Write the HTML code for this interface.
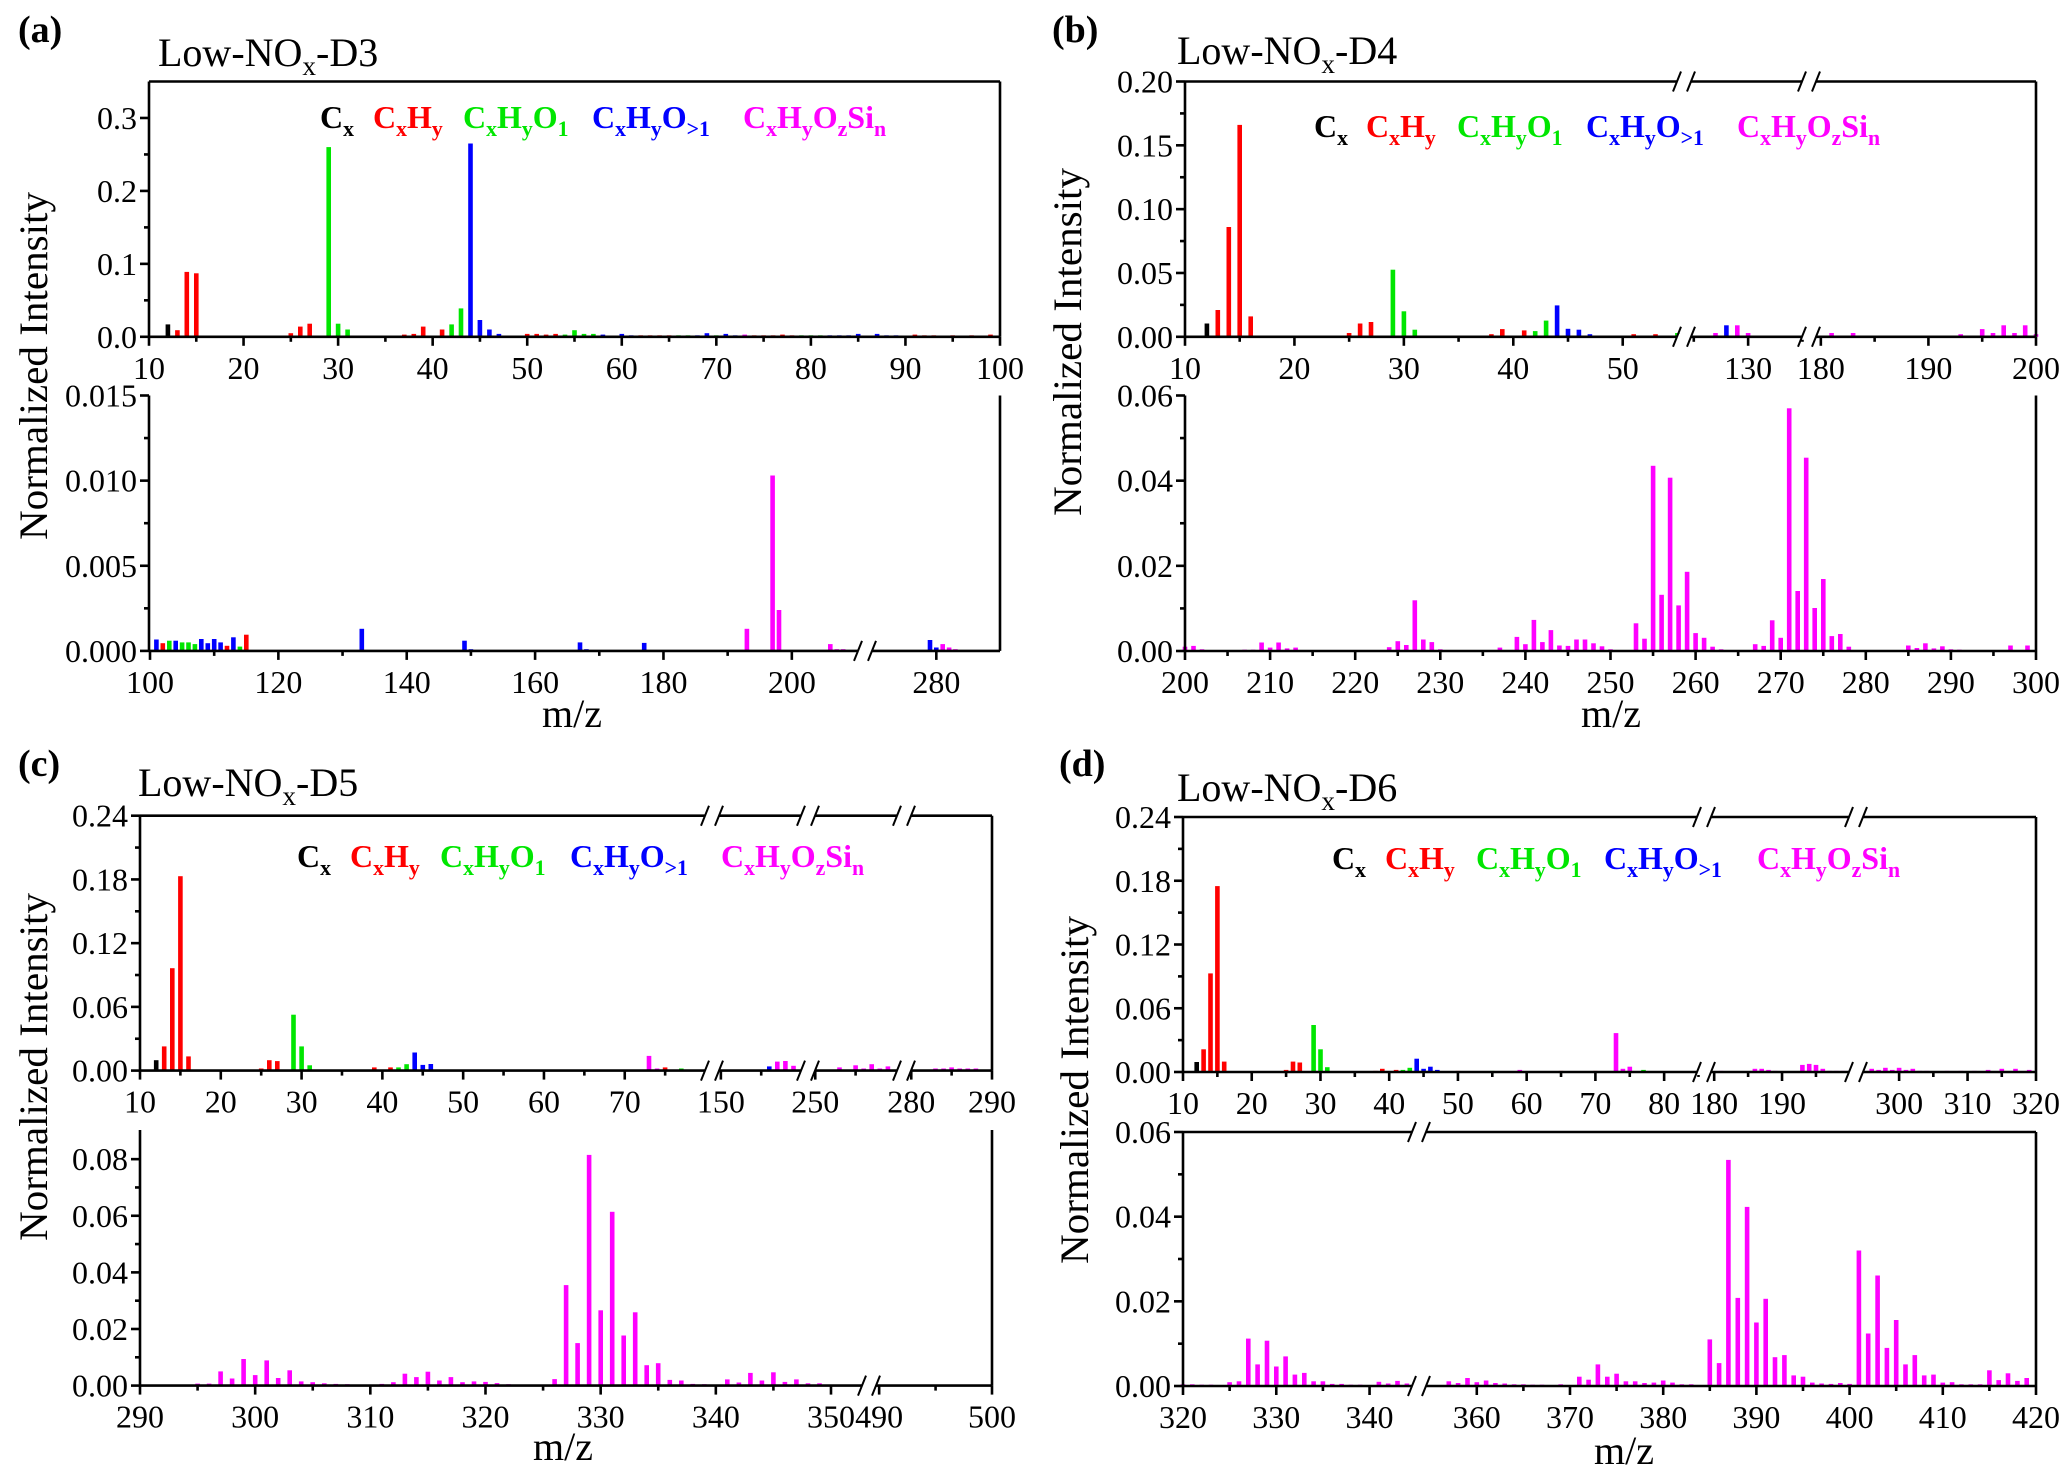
<!DOCTYPE html>
<html><head><meta charset="utf-8"><style>
html,body{margin:0;padding:0;background:#fff;}
svg{display:block;font-family:"Liberation Serif",serif;}
</style></head><body>
<svg id="fig" width="2067" height="1478" viewBox="0 0 2067 1478" xmlns="http://www.w3.org/2000/svg"></svg>
<script>
// ---------- DATA ----------
const classColors = ['#000000','#ff0000','#00e600','#0000ff','#ff00ff'];
const classNames = ['cx','cxhy','cxhyo1','cxhyo-gt1','cxhyozsin'];

// (a) top
const mzA1  = [12,13,14,15,22,24,25,26,27,29,30,31,37,38,39,41,42,43,44,45,46,47,
               50,51,52,53,54,55,56,57,58,
               60,61,62,63,64,65,66,67,68,69,70,71,72,73,74,75,76,77,78,79,80,81,82,83,84,85,
               87,88,89,91,92,93,95,97,99];
const valA1 = [.017,.009,.089,.087,.001,.001,.005,.014,.018,.26,.018,.01,.003,.004,.014,.01,.017,.039,.265,.023,.01,.004,
               .004,.004,.003,.004,.003,.009,.004,.004,.003,
               .004,.002,.002,.002,.002,.002,.002,.002,.002,.005,.002,.004,.002,.003,.002,.002,.002,.003,.002,.002,.002,.002,.002,.002,.002,.004,
               .004,.002,.002,.003,.002,.002,.002,.002,.003];
const clsA1 = [0,1,1,1,3,0,1,1,1,2,2,2,1,1,1,1,2,2,3,3,3,3,
               1,1,1,1,2,2,2,2,3,
               3,3,1,1,1,1,2,2,3,3,2,3,3,4,1,1,1,1,1,2,2,2,3,3,3,3,
               3,3,3,1,1,1,1,1,1];
// (a) bottom
const mzA2  = [101,102,103,104,105,106,107,108,109,110,111,112,113,114,115,133,149,150,167,168,177,193,197,198,206,207,208,279,280,281,282,283];
const valA2 = [.00067,.00045,.0006,.0006,.0005,.0005,.0004,.0007,.00045,.0007,.0005,.0003,.0008,.00025,.00095,.0013,.0006,.0001,.0005,.0001,.00047,.0013,.0103,.0024,.0004,.0001,.0001,.00064,.0002,.0004,.0002,.0001];
const clsA2 = [3,1,2,3,2,2,2,3,3,3,3,1,3,2,1,3,3,3,3,3,3,4,4,4,4,4,4,3,3,4,4,4];
// (b) top
const mzB1  = [12,13,14,15,16,24,25,26,27,29,30,31,36,37,38,39,41,42,43,44,45,46,47,48,49,50,51,52,53,54,55,
               127,128,129,130,131,181,182,183,186,191,192,193,194,195,196,197,198,199,200];
const valB1 = [.0104,.021,.086,.166,.016,.001,.003,.0104,.0116,.0526,.020,.0056,.001,.001,.002,.006,.005,.0045,.0127,.0246,.0063,.0056,.002,.001,.001,.001,.002,.001,.002,.001,.003,
               .003,.009,.009,.003,.001,.003,.001,.003,.001,.001,.001,.002,.001,.006,.003,.009,.003,.009,.002];
const clsB1 = [0,1,1,1,1,0,1,1,1,2,2,2,0,1,1,1,1,2,2,3,3,3,3,0,1,1,1,1,1,1,2,
               4,3,4,4,4,4,4,4,4,4,4,4,4,4,4,4,4,4,4];
// (b) bottom
const mzB2  = [200,201,202,207,208,209,210,211,212,213,224,225,226,227,228,229,230,237,239,240,241,242,243,244,245,246,247,248,249,250,
               253,254,255,256,257,258,259,260,261,262,263,267,268,269,270,271,272,273,274,275,276,277,278,281,282,283,285,286,287,288,289,290,291,297,299];
const valB2 = [.001,.0012,.0004,.0003,.0003,.002,.0008,.002,.0006,.0008,.0009,.0023,.0014,.0119,.0027,.0021,.0004,.0008,.0033,.0016,.0073,.0021,.0049,.0013,.0012,.0027,.0027,.0018,.0011,.0004,
               .0065,.0029,.0435,.0132,.0407,.0107,.0186,.0042,.0031,.001,.0004,.0016,.0012,.0072,.0031,.057,.0141,.0454,.0101,.0169,.0035,.004,.001,.0002,.0002,.0002,.0013,.0007,.0018,.0006,.0011,.0004,.0003,.0013,.0013];
// (c) top
const mzC1  = [12,13,14,15,16,25,26,27,29,30,31,37,38,39,41,42,43,44,45,46,47,
               50,52,55,58,60,65,67,70,73,74,75,77,
               156,157,158,159,253,255,256,257,258,259,283,284,285,286,287,288,289];
const valC1 = [.0098,.0228,.0964,.183,.0134,.002,.0098,.0089,.0526,.0228,.005,.001,.001,.003,.003,.003,.006,.017,.0054,.0062,.001,
               .001,.001,.001,.001,.001,.001,.001,.001,.0138,.002,.003,.002,
               .004,.0085,.009,.0045,.003,.005,.002,.006,.002,.004,.002,.002,.003,.002,.002,.002,.001];
const clsC1 = [0,1,1,1,1,1,1,1,2,2,2,1,1,1,1,2,2,3,3,3,3,
               1,1,2,2,3,1,1,1,4,4,1,2,
               3,4,4,4,4,4,4,4,4,4,4,4,4,4,4,4,4];
// (c) bottom
const mzC2  = [295,296,297,298,299,300,301,302,303,304,305,306,307,308,309,311,312,313,314,315,316,317,318,319,320,321,322,323,
               326,327,328,329,330,331,332,333,334,335,336,337,338,339,341,342,343,344,345,346,347,348,349,350,351];
const valC2 = [.0007,.0007,.005,.0025,.0094,.0037,.0089,.0027,.0054,.0015,.0012,.0008,.0006,.0005,.0004,.0006,.0012,.0042,.003,.0049,.0018,.003,.0012,.0015,.0013,.0009,.0005,.0004,
               .0023,.0355,.015,.0815,.0266,.0614,.0177,.0259,.0072,.0079,.002,.0018,.0006,.0005,.0022,.0011,.0045,.0018,.0047,.0013,.0022,.0008,.0008,.0004,.0003];
// (d) top
const mzD1  = [12,13,14,15,16,25,26,27,29,30,31,38,39,41,42,43,44,45,46,47,50,55,59,65,70,73,74,75,77,
               181,186,187,188,189,193,194,195,196,197,198,199,
               296,297,298,299,300,301,302,303,304,307,309,311,313,315,317,319];
const valD1 = [.0094,.0214,.0928,.175,.0098,.002,.0098,.0089,.0442,.0214,.0045,.001,.003,.002,.002,.004,.0125,.003,.005,.002,.001,.001,.002,.001,.001,.0366,.003,.005,.002,
               .001,.003,.003,.002,.001,.0067,.0076,.0067,.003,.001,.001,.001,
               .003,.002,.004,.002,.004,.002,.003,.001,.001,.001,.001,.001,.002,.003,.003,.002];
const clsD1 = [0,1,1,1,1,1,1,1,2,2,2,1,1,1,2,2,3,3,3,3,1,2,4,1,1,4,4,4,2,
               4,4,4,4,4,4,4,4,4,4,4,4,
               4,4,4,4,4,4,4,4,4,4,4,4,4,4,4,4];
// (d) bottom
const mzD2  = [320,321,322,323,325,326,327,328,329,330,331,332,333,334,335,336,337,338,339,341,342,343,344,
               357,358,359,360,361,362,363,364,365,366,367,369,371,372,373,374,375,376,377,378,379,380,381,382,383,
               385,386,387,388,389,390,391,392,393,394,395,396,397,398,399,400,401,402,403,404,405,406,407,408,409,410,411,412,413,414,415,416,417,418,419];
const valD2 = [.0004,.0004,.0003,.0003,.0009,.0011,.0112,.0051,.0107,.0046,.007,.0027,.0031,.0011,.0011,.0005,.0005,.0003,.0003,.001,.0006,.0012,.0006,
               .0011,.0007,.0019,.0009,.0013,.0007,.0006,.0004,.0004,.0003,.0003,.0004,.0022,.0015,.0051,.0022,.0029,.0011,.0011,.0007,.0008,.0013,.0008,.0004,.0004,
               .011,.0054,.0534,.0208,.0423,.015,.0206,.0068,.0073,.0025,.0022,.0008,.0006,.0005,.0007,.0005,.032,.0124,.0261,.009,.0156,.0051,.0073,.0025,.0027,.0008,.0009,.0004,.0004,.0004,.0037,.0014,.003,.0012,.0019];

// tick label arrays
const ticksA1 = [10,20,30,40,50,60,70,80,90,100];
const ticksA2 = [100,120,140,160,180,200,280];
const ticksB1 = [10,20,30,40,50,130,180,190,200];
const ticksB2 = [200,210,220,230,240,250,260,270,280,290,300];
const ticksC1 = [10,20,30,40,50,60,70,150,250,280,290];
const ticksC2 = [290,300,310,320,330,340,350,490,500];
const ticksD1 = [10,20,30,40,50,60,70,80,180,190,300,310,320];
const ticksD2 = [320,330,340,360,370,380,390,400,410,420];
const yTicksA1 = [0,0.1,0.2,0.3];
const yTicksA2 = [0,0.005,0.010,0.015];
const yTicksB1 = [0,0.05,0.10,0.15,0.20];
const yTicks06 = [0,0.02,0.04,0.06];
const yTicks24 = [0,0.06,0.12,0.18,0.24];
const yTicksC2 = [0,0.02,0.04,0.06,0.08];

// ---------- RENDER ----------
const NS='http://www.w3.org/2000/svg';
const svg=document.getElementById('fig');
function mk(tag,attrs,parent){const e=document.createElementNS(NS,tag);for(const k in attrs)e.setAttribute(k,attrs[k]);(parent||svg).appendChild(e);return e;}

function drawPlot(p){
  const g=mk('g',{});
  
  
  const yS=v=>p.y1-(v/p.ymax)*(p.y1-p.y0);
  const xS=v=>{let best=p.segs[0];for(const s of p.segs){if(v>=s[0]-0.6&&v<=s[1]+0.6){best=s;break;}}return best[2]+(v-best[0])/(best[1]-best[0])*(best[3]-best[2]);};
  for(let i=0;i<p.mz.length;i++){
    const x=xS(p.mz[i]);const y=yS(p.val[i]);
    const c=p.cls?p.cls[i]:4;
    const r=mk('rect',{x:(x-2.3).toFixed(1),y:y.toFixed(1),width:4.6,height:Math.max(0.8,p.y1-y).toFixed(1),fill:classColors[c]},g);
    
    
  }
  const ax=mk('g',{stroke:'#000','stroke-width':2.6,fill:'none'},g);
  
  
  mk('line',{x1:p.x0,y1:p.y1,x2:p.x1,y2:p.y1},ax);
  mk('line',{x1:p.x0,y1:p.y0,x2:p.x0,y2:p.y1},ax);
  mk('line',{x1:p.x1,y1:p.y0,x2:p.x1,y2:p.y1},ax);
  if(p.topBorder) mk('line',{x1:p.x0,y1:p.y0,x2:p.x1,y2:p.y0},ax);
  for(const t of p.xt){const x=xS(t);mk('line',{x1:x,y1:p.y1,x2:x,y2:p.y1+9},ax);
    const tx=mk('text',{x:x,y:p.y1+42,'font-size':32,'text-anchor':'middle',fill:'#000',stroke:'none'},g);tx.textContent=t;
    
    }
  for(const t of p.xm){const x=xS(t);mk('line',{x1:x,y1:p.y1,x2:x,y2:p.y1+5},ax);}
  for(const t of p.yt){const y=yS(t);mk('line',{x1:p.x0-9,y1:y,x2:p.x0,y2:y},ax);
    const tx=mk('text',{x:p.x0-12,y:y+11,'font-size':32,'text-anchor':'end',fill:'#000',stroke:'none'},g);tx.textContent=t.toFixed(p.yd);
    
    }
  for(let k=0;k<p.yt.length-1;k++){const y=yS((p.yt[k]+p.yt[k+1])/2);mk('line',{x1:p.x0-5,y1:y,x2:p.x0,y2:y},ax);}
  for(const b of p.breaks){
    const edges=[p.y1];if(p.topBorder)edges.push(p.y0);
    for(const ey of edges){
      mk('rect',{x:b-7,y:ey-3,width:14,height:6,fill:'#fff',stroke:'none'},g);
      mk('line',{x1:b-11,y1:ey+10,x2:b-3,y2:ey-10,stroke:'#000','stroke-width':2},g);
      mk('line',{x1:b+3,y1:ey+10,x2:b+11,y2:ey-10,stroke:'#000','stroke-width':2},g);
    }
  }
}
function range(a,b,s){const r=[];for(let v=a;v<=b+1e-9;v+=s)r.push(v);return r;}

const plots=[
 {name:'panel-a-top',x0:149,x1:1000,y0:81.5,y1:336.8,ymax:0.35,segs:[[10,100,149,1000]],mz:mzA1,val:valA1,cls:clsA1,
  xt:ticksA1,xm:range(15,95,10),yt:yTicksA1,yd:1,topBorder:true,breaks:[]},
 {name:'panel-a-bottom',x0:149,x1:1000,y0:395.5,y1:650.9,ymax:0.015,segs:[[100,211.4,150,865],[268.8,290,865,1000]],mz:mzA2,val:valA2,cls:clsA2,
  xt:ticksA2,xm:range(110,190,20),yt:yTicksA2,yd:3,topBorder:false,breaks:[865]},
 {name:'panel-b-top',x0:1185,x1:2036,y0:81.5,y1:336.8,ymax:0.2,segs:[[10,55.6,1185,1684],[124.1,135.6,1684,1809],[178.9,200,1809,2036]],mz:mzB1,val:valB1,cls:clsB1,
  xt:ticksB1,xm:[15,25,35,45,125,135,185,195],yt:yTicksB1,yd:2,topBorder:true,breaks:[1684,1809]},
 {name:'panel-b-bottom',x0:1185,x1:2036,y0:395.5,y1:651,ymax:0.06,segs:[[200,300,1185,2036]],mz:mzB2,val:valB2,cls:null,
  xt:ticksB2,xm:range(205,295,10),yt:yTicks06,yd:2,topBorder:false,breaks:[]},
 {name:'panel-c-top',x0:140,x1:992,y0:815.7,y1:1070.6,ymax:0.24,segs:[[10,80.8,140,712],[148.9,160.8,712,808],[249.1,261,808,904],[279.1,290,904,992]],mz:mzC1,val:valC1,cls:clsC1,
  xt:ticksC1,xm:[15,25,35,45,55,65,75,155,255,285],yt:yTicks24,yd:2,topBorder:true,breaks:[712,808,904]},
 {name:'panel-c-bottom',x0:140,x1:992,y0:1130,y1:1385.6,ymax:0.0903,segs:[[290,353.3,140,869],[489.1,500,869,992]],mz:mzC2,val:valC2,cls:null,
  xt:ticksC2,xm:[295,305,315,325,335,345,495],yt:yTicksC2,yd:2,topBorder:false,breaks:[869]},
 {name:'panel-d-top',x0:1183,x1:2036,y0:817,y1:1072,ymax:0.24,segs:[[10,85.8,1183,1704],[178.5,200.9,1704,1856],[293.7,320,1856,2036]],mz:mzD1,val:valD1,cls:clsD1,
  xt:ticksD1,xm:[15,25,35,45,55,65,75,85,185,195,305,315],yt:yTicks24,yd:2,topBorder:true,breaks:[1704,1856]},
 {name:'panel-d-bottom',x0:1183,x1:2036,y0:1132,y1:1386,ymax:0.06,segs:[[320,345.3,1183,1419],[353.8,420,1419,2036]],mz:mzD2,val:valD2,cls:null,
  xt:ticksD2,xm:[325,335,365,375,385,395,405,415],yt:yTicks06,yd:2,topBorder:true,breaks:[1419]}
];
plots.forEach(drawPlot);

const panels=[
 {id:'a',lab:[18,42],title:[158,66],tname:'D3',leg:128,lx:[320,373,463,592,743],yt:[33,366],mz:[572,731]},
 {id:'b',lab:[1052,42],title:[1177,64],tname:'D4',leg:137,lx:[1314,1366,1457,1586,1737],yt:[1067,342],mz:[1611,731]},
 {id:'c',lab:[18,776],title:[138,796],tname:'D5',leg:867,lx:[297,350,440,570,721],yt:[33,1067],mz:[563,1464]},
 {id:'d',lab:[1059,776],title:[1177,801],tname:'D6',leg:869,lx:[1332,1385,1476,1604,1757],yt:[1074,1090],mz:[1624,1468]}
];
const legendParts=[
 [['C',0],['x',1]],
 [['C',0],['x',1],['H',0],['y',1]],
 [['C',0],['x',1],['H',0],['y',1],['O',0],['1',1]],
 [['C',0],['x',1],['H',0],['y',1],['O',0],['>1',1]],
 [['C',0],['x',1],['H',0],['y',1],['O',0],['z',1],['Si',0],['n',1]]
];
function richText(parts,x,y,size,sub,attrs){
  const t=mk('text',Object.assign({x:x,y:y,'font-size':size},attrs));
  let low=false;
  for(const [s,isSub] of parts){
    const ts=mk('tspan',{},t);
    if(isSub&&!low){ts.setAttribute('dy',sub);ts.setAttribute('font-size',size*0.68);low=true;}
    else if(isSub){ts.setAttribute('font-size',size*0.68);}
    else if(!isSub&&low){ts.setAttribute('dy',-sub);low=false;}
    ts.textContent=s;
  }
  return t;
}
for(const p of panels){
  const l=mk('text',{x:p.lab[0],y:p.lab[1],'font-size':38,'font-weight':'bold'});l.textContent='('+p.id+')';
  
  
  const t=richText([['Low-NO',0],['x',1],['-'+p.tname,0]],p.title[0],p.title[1],40,9,{});
  
  
  for(let i=0;i<5;i++){
    const e=richText(legendParts[i],p.lx[i],p.leg,32,8,{'font-weight':'bold',fill:classColors[i]});
    
    
  }
  const yt=mk('text',{x:0,y:0,'font-size':40,'text-anchor':'middle',textLength:348,lengthAdjust:'spacingAndGlyphs',transform:'translate('+(p.yt[0]+14)+','+p.yt[1]+') rotate(-90)'});
  yt.textContent='Normalized Intensity';
  
  
  const xt=mk('text',{x:p.mz[0],y:p.mz[1]-4,'font-size':40,'text-anchor':'middle'});xt.textContent='m/z';
  
  
}
</script>
</body></html>
